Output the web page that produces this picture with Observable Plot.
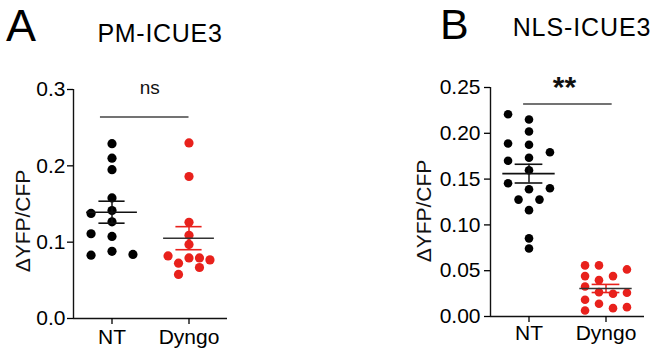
<!DOCTYPE html>
<html><head><meta charset="utf-8">
<script src="https://cdn.jsdelivr.net/npm/d3@7"></script>
<script src="https://cdn.jsdelivr.net/npm/@observablehq/plot@0.6"></script>
<style>
body{margin:0;background:#fff;}
#root{position:relative;width:653px;height:350px;overflow:hidden;font-family:"Liberation Sans",Arial,sans-serif;color:#000;background:#fff;}
.abs{position:absolute;white-space:nowrap;line-height:1;}
#root svg{position:absolute;top:0;}
</style></head><body><div id="root"></div>
<script>
// ---------- data ----------
const categories = ["NT", "Dyngo"];
const yLabel = "ΔYFP/CFP";

// Panel A: PM-ICUE3
const titleA = "PM-ICUE3";
const pmNT     = [0.229, 0.210, 0.195, 0.158, 0.1415, 0.1376, 0.1266, 0.111, 0.1075, 0.083, 0.088, 0.084];
const pmNTLane = [0, 0, 0, 0, 0, -2, 0, -2, 0, -2, 0, 2];
const pmDyngo     = [0.230, 0.186, 0.126, 0.109, 0.097, 0.082, 0.0794, 0.0794, 0.0768, 0.0725, 0.0668, 0.0577];
const pmDyngoLane = [0, 0, 0, 0, 0, -2, 0, 1, 2, -1, 1, -1];
const pmTicks = [0, 0.1, 0.2, 0.3];
const pmSig = "ns";

// Panel B: NLS-ICUE3
const titleB = "NLS-ICUE3";
const nlsNT     = [0.2208, 0.215, 0.2019, 0.1888, 0.1875, 0.1793, 0.170, 0.1733, 0.1596, 0.1454, 0.139, 0.140, 0.1276, 0.1276, 0.1161, 0.0853, 0.0743];
const nlsNTLane = [-2, 0, 0, -2, 0, 2, -2, 0, 0, -2, 0, 2, -1, 1, 0, 0, 0];
const nlsDyngo     = [0.0558, 0.0441, 0.0328, 0.0183, 0.0066, 0.0558, 0.0397, 0.0266, 0.0139, 0.0441, 0.0248, 0.0091, 0.0514, 0.0259, 0.0102];
const nlsDyngoLane = [-2, -2, -2, -2, -2, -0.67, -0.67, -0.67, -0.67, 0.67, 0.67, 0.67, 2, 2, 2];
const nlsTicks = [0, 0.05, 0.10, 0.15, 0.20, 0.25];
const nlsSig = "**";

// ---------- drawing ----------
const RED = "#e8211c";
const FONT = "'Liberation Sans', Arial, sans-serif";

function panel(o) {
  const pts = [
    ...o.nt.map((v, i) => ({g: 0, lane: o.ntLane[i], v})),
    ...o.dy.map((v, i) => ({g: 1, lane: o.dyLane[i], v}))
  ];
  const stats = [o.nt, o.dy].map((arr, g) => {
    const m = d3.mean(arr), s = d3.deviation(arr) / Math.sqrt(arr.length);
    return {g, m, lo: m - s, hi: m + s,
            meanStroke: g ? "#333" : "#111", semStroke: g ? RED : "#111"};
  });
  const xp = d => d.g + d.lane * o.laneW;
  return Plot.plot({
    width: o.width, height: 350,
    marginLeft: o.ml, marginRight: o.mr, marginTop: o.mt, marginBottom: o.mb,
    style: {fontFamily: FONT, fontSize: "21px", background: "transparent", color: "#000", overflow: "visible"},
    x: {domain: [-0.5, 1.5]},
    y: {domain: o.yDomain},
    color: {type: "identity"},
    marks: [
      Plot.dot(pts.filter(d => d.g === 0), {x: xp, y: "v", r: o.r, fill: "#000", stroke: "none"}),
      Plot.dot(pts.filter(d => d.g === 1), {x: xp, y: "v", r: o.r, fill: RED, stroke: "none"}),
      Plot.ruleX(stats, {x: "g", y1: "lo", y2: "hi", stroke: "semStroke", strokeWidth: 1.5}),
      Plot.ruleY(stats, {y: "hi", x1: d => d.g - o.semW, x2: d => d.g + o.semW, stroke: "semStroke", strokeWidth: 1.6}),
      Plot.ruleY(stats, {y: "lo", x1: d => d.g - o.semW, x2: d => d.g + o.semW, stroke: "semStroke", strokeWidth: 1.6}),
      Plot.ruleY(stats, {y: "m", x1: d => d.g - o.meanW, x2: d => d.g + o.meanW, stroke: "meanStroke", strokeWidth: 1.6}),
      Plot.ruleY([o.bracket], {y: "y", x1: "x1", x2: "x2", stroke: "#444", strokeWidth: 1.3}),
      Plot.text([o.sig], {x: "x", y: "y", text: "label", fontSize: o.sigSize, fontWeight: o.sigWeight, lineAnchor: "bottom", fill: "#111"}),
      Plot.ruleY([0], {stroke: "#111", strokeWidth: 1.4}),
      Plot.ruleX([-0.5], {stroke: "#111", strokeWidth: 1.4}),
      Plot.axisX({ticks: [0, 1], tickFormat: i => categories[i], tickSize: 6, tickPadding: o.padX, strokeWidth: 1.3, label: null, fontSize: 21}),
      Plot.axisY({ticks: o.ticks, tickFormat: d3.format(o.fmt), tickSize: 6, tickPadding: o.padY, strokeWidth: 1.3, label: null, fontSize: 21}),
      Plot.text([yLabel], {frameAnchor: "left", textAnchor: "middle", rotate: -90, dx: o.labDx, dy: o.labDy, lineAnchor: "bottom", fontSize: 21, fill: "#111"})
    ]
  });
}

const root = document.getElementById("root");

const svgA = panel({
  nt: pmNT, ntLane: pmNTLane, dy: pmDyngo, dyLane: pmDyngoLane,
  yDomain: [0, 0.3], ticks: pmTicks, fmt: ".1f",
  width: 327, ml: 73, mr: 100, mt: 89, mb: 32,
  r: 4.6, laneW: 0.136, semW: 0.17, meanW: 0.33,
  bracket: {y: 0.264, x1: -0.15, x2: 1.0},
  sig: {x: 0.49, y: 0.2936, label: pmSig}, sigSize: 19, sigWeight: "normal",
  padX: 5, padY: 2, labDx: -44, labDy: 17
});
svgA.style.left = "0px";
root.appendChild(svgA);

const svgB = panel({
  nt: nlsNT, ntLane: nlsNTLane, dy: nlsDyngo, dyLane: nlsDyngoLane,
  yDomain: [0, 0.25], ticks: nlsTicks, fmt: ".2f",
  width: 326, ml: 163, mr: 9, mt: 87, mb: 34,
  r: 4.3, laneW: 0.136, semW: 0.18, meanW: 0.34,
  bracket: {y: 0.232, x1: -0.07, x2: 1.08},
  sig: {x: 0.46, y: 0.2394, label: nlsSig}, sigSize: 30, sigWeight: "bold",
  padX: 3, padY: 4, labDx: -60, labDy: 9
});
svgB.style.left = "327px";
root.appendChild(svgB);

// panel letters and titles
function addText(txt, css) {
  const d = document.createElement("div");
  d.className = "abs";
  d.textContent = txt;
  Object.assign(d.style, css);
  root.appendChild(d);
}
addText("A", {left: "6px", top: "3px", fontSize: "45px"});
addText(titleA, {left: "60px", top: "21px", width: "200px", textAlign: "center", fontSize: "25px", letterSpacing: "0.7px"});
addText("B", {left: "440px", top: "3px", fontSize: "43px"});
addText(titleB, {left: "482px", top: "15px", width: "200px", textAlign: "center", fontSize: "25px", letterSpacing: "0.9px"});
</script></body></html>
